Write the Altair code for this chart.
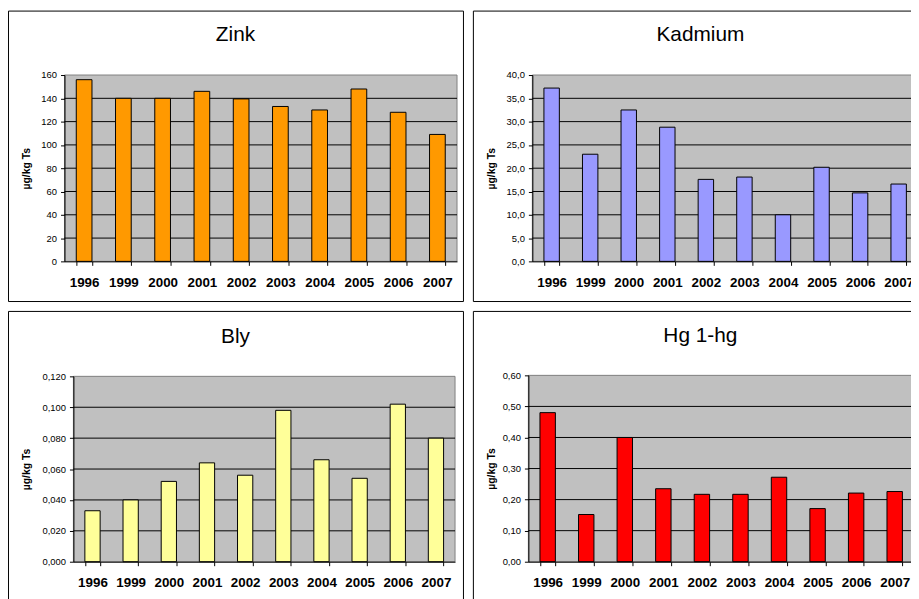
import altair as alt
import pandas as pd

years = ["1996", "1999", "2000", "2001", "2002", "2003", "2004", "2005", "2006", "2007"]

zink = [156, 140, 140, 146, 139.5, 133, 130, 148, 128, 109]
kadmium = [37.2, 23.0, 32.5, 28.8, 17.6, 18.1, 10.0, 20.2, 14.7, 16.6]
bly = [0.033, 0.040, 0.052, 0.064, 0.056, 0.098, 0.066, 0.054, 0.102, 0.080]
hg = [0.48, 0.152, 0.400, 0.235, 0.217, 0.217, 0.272, 0.171, 0.221, 0.226]

zink_ticks = [0, 20, 40, 60, 80, 100, 120, 140, 160]
kadmium_ticks = [0, 5, 10, 15, 20, 25, 30, 35, 40]
bly_ticks = [0, 0.02, 0.04, 0.06, 0.08, 0.10, 0.12]
hg_ticks = [0, 0.1, 0.2, 0.3, 0.4, 0.5, 0.6]

FONT = "Liberation Sans"
W, H = 911, 591          # whole drawing area (page minus 8px margin)
FW, FH = 459, 293        # frame size of each panel
YTITLE = "µg/kg Ts"


def panel(title, values, color, ticks, fmt, fx, fy, px0, px1, py0, py1):
    """fx, fy: frame top-left; px0..px1, py0..py1: plot area."""
    df = pd.DataFrame({"year": years, "value": values})
    tdf = pd.DataFrame({"tick": ticks})
    one = pd.DataFrame({"t": [title]})
    ymax = ticks[-1]
    yscale = alt.Scale(domain=[0, ymax], nice=False, range=[py1, py0])
    label_expr = f"replace(format(datum.value, '{fmt}'), '.', ',')"
    yaxis = alt.Axis(
        orient="left",
        offset=-px0,
        values=ticks,
        labelExpr=label_expr,
        title=YTITLE,
        titleX=(fx + 19) - px0,
        titleY=(py1 - py0) / 2 + py0,
        titleBaseline="middle",
        titleFont=FONT,
        titleFontSize=10.5,
        titleFontWeight="bold",
        titleColor="black",
        labelFont=FONT,
        labelFontSize=9.5,
        labelColor="black",
        labelPadding=4,
        tickSize=4,
        tickColor="black",
        domainColor="black",
        grid=False,
        zindex=1,
    )

    bg = alt.Chart(one).mark_rect(
        fill="#C0C0C0", stroke="#808080", strokeWidth=1
    ).encode(
        x=alt.value(px0), x2=alt.value(px1), y=alt.value(py0), y2=alt.value(py1)
    )
    grid = alt.Chart(tdf).transform_filter(
        f"datum.tick > 0 && datum.tick < {ymax}"
    ).mark_rule(color="black", strokeWidth=1).encode(
        y=alt.Y("tick:Q", scale=yscale, axis=yaxis, title=YTITLE),
        x=alt.value(px0), x2=alt.value(px1),
    )
    bars = alt.Chart(df).mark_bar(color=color, stroke="black", strokeWidth=1).encode(
        x=alt.X(
            "year:N",
            sort=years,
            scale=alt.Scale(paddingInner=0.6, paddingOuter=0.3, range=[px0, px1]),
            axis=alt.Axis(
                title=None,
                orient="bottom",
                offset=-(H - py1),
                labelAngle=0,
                tickBand="extent",
                tickSize=4,
                tickColor="black",
                domainColor="black",
                labelFont=FONT,
                labelFontSize=13.5,
                labelFontWeight="bold",
                labelColor="black",
                labelPadding=10,
                grid=False,
                zindex=1,
            ),
        ),
        y=alt.Y("value:Q", scale=yscale, axis=yaxis, title=YTITLE),
    )
    frame = alt.Chart(one).mark_rect(
        fill="white", fillOpacity=0, stroke="black", strokeWidth=1
    ).encode(
        x=alt.value(fx + 0.5), x2=alt.value(fx + FW + 0.5),
        y=alt.value(fy + 0.5), y2=alt.value(fy + FH + 0.5),
    )
    ttl = alt.Chart(one).mark_text(
        font=FONT, fontSize=21, align="center", baseline="alphabetic", color="black"
    ).encode(
        text="t:N",
        x=alt.value(fx + FW / 2),
        y=alt.value(py0 - 34),
    )
    return alt.layer(bg, grid, bars, frame, ttl)


p1 = panel("Zink", zink, "#FF9900", zink_ticks, ".0f", 0, 0, 57, 453, 65, 253)
p2 = panel("Kadmium", kadmium, "#9999FF", kadmium_ticks, ".1f", 469, 0, 529, 918, 65, 253)
p3 = panel("Bly", bly, "#FFFF99", bly_ticks, ".3f", 0, 303, 66, 451, 369, 556)
p4 = panel("Hg 1-hg", hg, "#FF0000", hg_ticks, ".2f", 469, 303, 525, 914, 368, 556)

chart = alt.layer(p1, p2, p3, p4).resolve_scale(
    x="independent", y="independent"
).resolve_axis(
    x="independent", y="independent"
).properties(
    width=W, height=H, padding=0,
    autosize=alt.AutoSizeParams(type="none"),
).configure_view(fill="white", stroke=None)

chart.save("out.html", embed_options={"renderer": "svg", "actions": False})
